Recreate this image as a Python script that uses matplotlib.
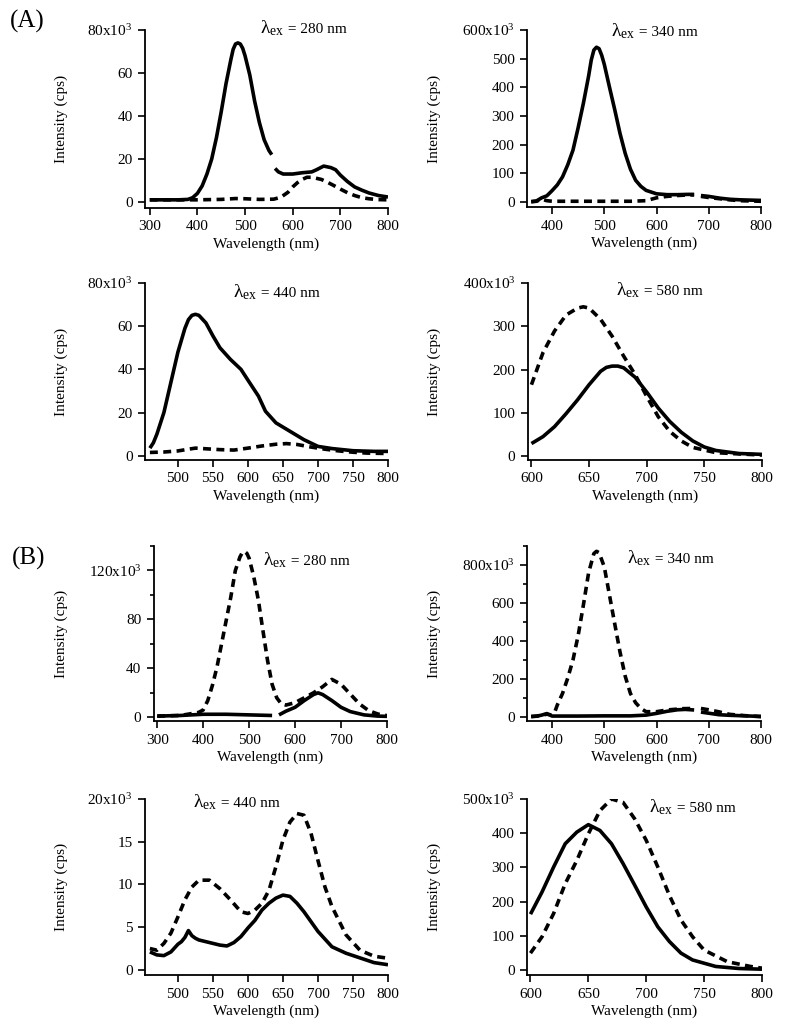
import numpy as np
import matplotlib
matplotlib.use("Agg")
import matplotlib.pyplot as plt
from matplotlib.ticker import MultipleLocator

nan = np.nan

# (A) excitation 280 nm
a280_sx = [300, 320, 340, 360, 380, 390, 400, 410, 420, 430, 440, 450, 460, 470, 475, 480, 485, 490, 495, 500, 510, 520, 530,
           540, 550, 556, nan, 563, 570, 580, 600, 620, 640, 650, 665, 680, 690, 700, 715, 730, 745, 760, 780, 800]
a280_s = [1, 1, 1, 1, 1.2, 2, 4, 7.5, 13, 20, 30, 42, 55, 66, 71, 73.5, 74, 73.5, 71.5, 68, 59, 47, 37,
          29, 24, 22, nan, 15.6, 14, 13, 13, 13.6, 14, 15, 16.7, 16, 15, 12.5, 9.5, 7, 5.5, 4.2, 3, 2.3]
a280_dx = [300, 350, 400, 450, 480, 500, 530, 560, 575, 590, 600, 610, 620, 630, 640, 650, 660, 670, 685, 700, 715, 730, 745, 760, 780, 800]
a280_d = [1, 1, 1, 1.2, 1.6, 1.5, 1.2, 1.3, 2.2, 4.5, 7, 9, 10.5, 11.5, 11.5, 11, 10.5, 9.5, 7.8, 6, 4.3, 3, 2, 1.5, 1.1, 1]

# (A) excitation 340 nm
a340_sx = [360, 370, 380, 390, 400, 410, 420, 430, 440, 450, 460, 470, 475, 480, 485, 490, 495, 500, 510, 520, 530, 540, 550,
           560, 570, 580, 600, 620, 640, 660, 672, nan, 685, 700, 720, 740, 760, 780, 800]
a340_s = [2, 4, 15, 22, 40, 60, 88, 130, 181, 260, 345, 440, 495, 530, 540, 535, 512, 480, 400, 322, 240, 170, 115,
          76, 55, 41, 29, 26, 26, 27, 27, nan, 23, 20, 14, 10, 8, 7, 6]
a340_dx = [360, 370, 380, 390, 400, 450, 500, 550, 580, 600, 620, 640, 660, 672, nan, 685, 700, 720, 740, 760, 780, 800]
a340_d = [1, 3, 10, 5, 3, 3, 3, 3, 5, 15, 20, 23, 25, 25, nan, 20, 16, 12, 8, 5, 4, 3]

# (A) excitation 440 nm
a440_sx = [460, 465, 470, 480, 490, 500, 510, 515, 520, 525, 530, 540, 550, 560, 575, 590, 600, 615, 625, 640, 660, 680, 700,
           720, 750, 780, 800]
a440_s = [3.5, 6, 10, 20, 34, 48, 59, 63, 65, 65.5, 65, 61.5, 55.5, 50, 44.6, 40, 35, 27.6, 20.6, 15.2, 11.3, 7.4, 4.3,
          3.3, 2.3, 2, 2]
a440_dx = [460, 480, 500, 515, 525, 540, 560, 580, 600, 620, 640, 655, 670, 690, 710, 730, 750, 770, 800]
a440_d = [1.5, 1.7, 2.2, 3, 3.5, 3.2, 2.8, 2.6, 3.5, 4.5, 5.3, 5.6, 5.2, 4, 3, 2.2, 1.6, 1.2, 1]

# (A) excitation 580 nm
a580_sx = [600, 610, 620, 630, 640, 650, 660, 665, 670, 675, 680, 690, 700, 710, 720, 730, 740, 750, 760, 780, 800]
a580_s = [29, 45, 68, 98, 130, 165, 196, 205, 208, 208, 204, 182, 148, 111, 80, 55, 35, 21, 13, 6, 4]
a580_dx = [600, 610, 620, 630, 640, 645, 650, 660, 670, 680, 690, 700, 710, 720, 730, 740, 760, 780, 800]
a580_d = [165, 239, 289, 326, 342, 345, 342, 316, 277, 231, 188, 138, 91, 57, 35, 20, 8, 5, 2.5]

# (B) excitation 280 nm
b280_sx = [300, 350, 400, 450, 500, 550, nan, 565, 580, 600, 620, 640, 650, 660, 680, 700, 720, 750, 780, 800]
b280_s = [1, 1.5, 2.5, 2.5, 2, 1.5, nan, 2, 5, 8.2, 13.7, 18.6, 20, 18.6, 13.7, 8.2, 4.7, 2, 1, 0.8]
b280_dx = [300, 350, 390, 400, 410, 420, 430, 440, 450, 460, 470, 480, 485, 490, 495, 500, 510, 520, 530, 540, 550, 560, 570,
           580, 600, 620, 640, 660, 680, 700, 720, 740, 760, 780, 800]
b280_d = [1, 1.5, 4, 6, 13.7, 26, 41, 60, 79, 98, 120, 131, 134.5, 135.6, 134, 130, 115, 96, 71, 46.6, 27, 16, 11,
          10, 12, 16, 20, 25, 31, 27, 19, 11, 5.5, 2.7, 1.4]

# (B) excitation 340 nm
b340_sx = [360, 370, 380, 390, 400, 450, 500, 550, 580, 600, 620, 640, 655, 672, nan, 685, 700, 720, 740, 760, 780, 800]
b340_s = [3, 4, 10, 18, 5, 5, 6, 6, 10, 19, 30, 38, 40, 37, nan, 26, 20, 12, 9, 7, 5, 3]
b340_dx = [360, 380, 390, 400, 405, 410, 420, 430, 440, 450, 460, 470, 480, 485, 490, 500, 510, 520, 530, 540, 550, 560, 570,
           580, 600, 620, 650, 672, nan, 685, 700, 720, 740, 770, 800]
b340_d = [2, 8, 15, 10, 25, 63, 124, 205, 300, 430, 590, 760, 860, 872, 865, 790, 640, 490, 343, 215, 124, 75, 45,
          28, 28, 37, 44, 45, nan, 45, 38, 27, 14, 7, 2]

# (B) excitation 440 nm
b440_sx = [460, 470, 480, 490, 500, 505, 510, 515, 520, 525, 530, 540, 550, 560, 570, 580, 590, 600, 610, 620, 630, 640,
           650, 660, 670, 680, 700, 720, 740, 760, 780, 800]
b440_s = [2.1, 1.75, 1.67, 2.1, 3.0, 3.3, 3.8, 4.6, 4.0, 3.7, 3.5, 3.3, 3.1, 2.9, 2.8, 3.2, 3.9, 4.9, 5.8, 7.0, 7.8, 8.4,
          8.75, 8.6, 7.8, 6.8, 4.5, 2.7, 1.95, 1.4, 0.85, 0.6]
b440_dx = [460, 470, 480, 490, 500, 510, 520, 530, 545, 560, 575, 590, 600, 610, 620, 630, 640, 650, 660, 670, 680, 690,
           700, 710, 720, 740, 760, 780, 800]
b440_d = [2.5, 2.3, 3.1, 4.3, 6.2, 8.2, 9.7, 10.5, 10.5, 9.5, 8.2, 6.8, 6.6, 7.0, 7.8, 9.3, 12.1, 15.2, 17.3, 18.3, 18.1, 16,
          12.8, 9.7, 7.4, 4.1, 2.3, 1.6, 1.36]

# (B) excitation 580 nm
b580_sx = [600, 610, 620, 630, 640, 650, 660, 670, 680, 690, 700, 710, 720, 730, 740, 760, 780, 800]
b580_s = [163, 228, 301, 369, 403, 425, 408, 369, 311, 248, 184, 126, 83, 49, 29, 10, 4, 2]
b580_dx = [600, 610, 620, 630, 640, 650, 660, 670, 680, 690, 700, 710, 720, 730, 740, 750, 770, 790, 800]
b580_d = [49, 97, 165, 252, 320, 398, 466, 500, 490, 442, 379, 301, 218, 146, 97, 58, 24, 10, 5]

plt.rcParams['font.family'] = 'Liberation Serif'
plt.rcParams['mathtext.fontset'] = 'custom'
plt.rcParams['mathtext.rm'] = 'Liberation Serif'
plt.rcParams['mathtext.it'] = 'Liberation Serif:italic'

W, H = 788, 1034
fig = plt.figure(figsize=(W / 100, H / 100), dpi=100)


def rect(l, t, r, b):
    return [l / W, 1 - b / H, (r - l) / W, (b - t) / H]


def panel(box, xs, ys, xd, yd, xlim, ylim, xstep, yticks, yminor, lam, lampos, ylab_x):
    ax = fig.add_axes(rect(*box))
    ax.plot(xd, yd, color='black', lw=2.6, ls=(0, (2.2, 1.5)), dash_capstyle='butt', dash_joinstyle='round')
    ax.plot(xs, ys, color='black', lw=2.6, solid_capstyle='butt', solid_joinstyle='round')
    ax.set_xlim(*xlim)
    ax.set_ylim(*ylim)
    ax.xaxis.set_major_locator(MultipleLocator(xstep))
    labels = [str(v) for v in yticks]
    labels[-1] = labels[-1] + "x10$^3$"
    ax.set_yticks(yticks, labels)
    if yminor:
        ax.yaxis.set_minor_locator(MultipleLocator(yminor))
    for s in ['top', 'right']:
        ax.spines[s].set_visible(False)
    for s in ['left', 'bottom']:
        ax.spines[s].set_linewidth(1.3)
    ax.tick_params(which='major', direction='out', length=5, width=1.2, labelsize=11, pad=4)
    ax.tick_params(which='minor', direction='out', length=3, width=1.2)
    ax.set_xlabel("Wavelength (nm)", fontsize=11, labelpad=3)
    ax.set_ylabel("Intensity (cps)", fontsize=11)
    pos = ax.get_position()
    ax.yaxis.set_label_coords(ylab_x / W, (pos.y0 + pos.y1) / 2, transform=fig.transFigure)
    t = fig.text(lampos[0] / W, 1 - lampos[1] / H, r"$\mathrm{λ_{ex}}$", fontsize=14, va='baseline')
    ax.annotate(" = %d nm" % lam, xy=(1, 1 - lampos[1] / H), xycoords=(t, 'figure fraction'),
                fontsize=11, va='baseline', ha='left', annotation_clip=False)
    return ax


panel((145, 30, 388, 208), a280_sx, a280_s, a280_dx, a280_d, (290, 800), (-2.8, 80), 100,
      [0, 20, 40, 60, 80], None, 280, (260, 33), 68)
panel((527, 30, 761, 207), a340_sx, a340_s, a340_dx, a340_d, (352, 800), (-17, 600), 100,
      [0, 100, 200, 300, 400, 500, 600], None, 340, (611, 36), 441)
panel((145, 283, 388, 460), a440_sx, a440_s, a440_dx, a440_d, (453, 800), (-2, 80), 50,
      [0, 20, 40, 60, 80], None, 440, (233, 297), 68)
panel((528, 283, 762, 460), a580_sx, a580_s, a580_dx, a580_d, (597, 800), (-9, 400), 50,
      [0, 100, 200, 300, 400], None, 580, (616, 295), 441)
panel((154, 546, 387, 721), b280_sx, b280_s, b280_dx, b280_d, (293, 800), (-3, 140), 100,
      [0, 40, 80, 120], 20, 280, (263, 565), 68)
panel((527, 546, 761, 721), b340_sx, b340_s, b340_dx, b340_d, (352, 800), (-21, 900), 100,
      [0, 200, 400, 600, 800], 100, 340, (627, 563), 441)
panel((145, 799, 388, 975), b440_sx, b440_s, b440_dx, b440_d, (453, 800), (-0.6, 20), 50,
      [0, 5, 10, 15, 20], None, 440, (193, 807), 68)
panel((527, 799, 762, 975), b580_sx, b580_s, b580_dx, b580_d, (597, 800), (-15, 500), 50,
      [0, 100, 200, 300, 400, 500], None, 580, (649, 812), 441)

fig.text(10 / W, 1 - 28 / H, "(A)", fontsize=18, va='baseline')
fig.text(12 / W, 1 - 565 / H, "(B)", fontsize=18, va='baseline')

fig.savefig("out.png", dpi=100)
